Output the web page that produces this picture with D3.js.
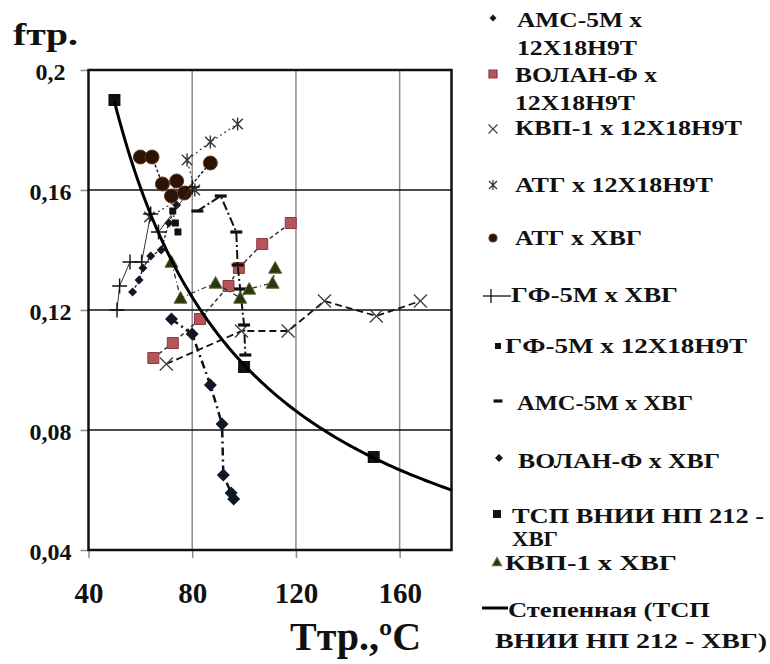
<!DOCTYPE html>
<html>
<head>
<meta charset="utf-8">
<script src="https://cdn.jsdelivr.net/npm/d3@7"></script>
<style>
  body { margin: 0; background: #fff; }
  text { font-family: "Liberation Serif", "Times New Roman", serif; font-weight: bold; fill: #111; }
</style>
</head>
<body>
<svg id="chart" width="770" height="664"></svg>
<script>
// Axis ticks
const xTicks = [40, 80, 120, 160];
const xTickLabels = ["40", "80", "120", "160"];
const yTicks = [0.04, 0.08, 0.12, 0.16, 0.2];
const yTickLabels = ["0,04", "0,08", "0,12", "0,16", "0,2"];

// Series names (friction pair)
const seriesNames = [
  "АМС-5М x 12Х18Н9Т",
  "ВОЛАН-Ф x 12Х18Н9Т",
  "КВП-1 x 12Х18Н9Т",
  "АТГ x 12Х18Н9Т",
  "АТГ x ХВГ",
  "ГФ-5М x ХВГ",
  "ГФ-5М x 12Х18Н9Т",
  "АМС-5М x ХВГ",
  "ВОЛАН-Ф x ХВГ",
  "ТСП ВНИИ НП 212 - ХВГ",
  "КВП-1 x ХВГ"
];
const trendName = "Степенная (ТСП ВНИИ НП 212 - ХВГ)";

// Temperature (°C) and friction coefficient per series
const amc12T   = [57, 59.5, 61, 64, 68, 71, 74];
const amc12F   = [0.126, 0.130, 0.134, 0.138, 0.140, 0.149, 0.155];
const volan12T = [65, 72.5, 83, 94, 98, 107, 118];
const volan12F = [0.104, 0.109, 0.117, 0.128, 0.134, 0.142, 0.149];
const kvp12T   = [70, 99, 117, 131, 151, 168];
const kvp12F   = [0.102, 0.113, 0.113, 0.123, 0.118, 0.123];
const atg12T   = [63.5, 81, 78, 87, 97.5];
const atg12F   = [0.151, 0.160, 0.170, 0.176, 0.182];
const atgXvgT  = [60, 64.5, 68.5, 74, 72, 77, 87];
const atgXvgF  = [0.171, 0.171, 0.162, 0.163, 0.158, 0.159, 0.169];
const gfXvgT   = [51, 52, 56, 60.5, 64, 67, 80];
const gfXvgF   = [0.120, 0.128, 0.136, 0.136, 0.152, 0.146, 0.161];
const gf12T    = [72.5, 73.5, 74.5];
const gf12F    = [0.153, 0.149, 0.146];
const amcXvgT  = [82, 91, 97, 97.5, 98.5, 100, 100.5];
const amcXvgF  = [0.153, 0.158, 0.146, 0.135, 0.127, 0.115, 0.105];
const volanXvgT = [72, 80, 87, 91.5, 92, 95, 96];
const volanXvgF = [0.117, 0.112, 0.095, 0.082, 0.065, 0.059, 0.057];
const tspT     = [50, 100, 150];
const tspF     = [0.190, 0.101, 0.071];
const kvpXvgT  = [72, 75.5, 89, 98.5, 102, 111, 112];
const kvpXvgF  = [0.136, 0.124, 0.129, 0.124, 0.127, 0.129, 0.134];

const zip = (ts, fs) => ts.map((t, i) => ({ t, f: fs[i] }));

// Drawing styles for each series
const series = [
  { pts: zip(amc12T, amc12F),     marker: "diamond", size: 9,  fill: "#101828", stroke: "none", line: "#222", lw: 1.3, dash: "3,2" },
  { pts: zip(volan12T, volan12F), marker: "square",  size: 11, fill: "#b5545a", stroke: "#8c3b40", line: "#333", lw: 1.5, dash: "4,3" },
  { pts: zip(kvp12T, kvp12F),     marker: "x",       size: 13, fill: "none", stroke: "#444", line: "#111", lw: 1.8, dash: "7,4" },
  { pts: zip(atg12T, atg12F),     marker: "asterisk",size: 13, fill: "none", stroke: "#333", line: "#444", lw: 1.3, dash: "2,3" },
  { pts: zip(atgXvgT, atgXvgF),   marker: "circle",  size: 14, fill: "#2b1306", stroke: "#6b3a1a", line: "#222", lw: 1.5, dash: "3,2" },
  { pts: zip(gfXvgT, gfXvgF),     marker: "plus",    size: 15, fill: "none", stroke: "#111", line: "#333", lw: 1, dash: null },
  { pts: zip(gf12T, gf12F),       marker: "square",  size: 7,  fill: "#111", stroke: "none", line: "#222", lw: 1.5, dash: "1.5,3" },
  { pts: zip(amcXvgT, amcXvgF),   marker: "dash",    size: 12, fill: "#111", stroke: "none", line: "#111", lw: 2, dash: "9,3,2,3" },
  { pts: zip(volanXvgT, volanXvgF), marker: "diamond", size: 13, fill: "#101828", stroke: "none", line: "#111", lw: 2.5, dash: "8,4,2,4" },
  { pts: zip(tspT, tspF),         marker: "square",  size: 12, fill: "#111", stroke: "none", line: null },
  { pts: zip(kvpXvgT, kvpXvgF),   marker: "triangle",size: 13, fill: "#2a3512", stroke: "#5b6b2a", line: "#333", lw: 1.3, dash: "5,3,1,3" }
];

// Marker path for a given shape, centred on the origin
function markerPath(type, s) {
  const h = s / 2;
  switch (type) {
    case "square":   return `M${-h},${-h}H${h}V${h}H${-h}Z`;
    case "diamond":  return `M0,${-h}L${h},0L0,${h}L${-h},0Z`;
    case "triangle": return `M0,${-h}L${h},${h * 0.8}L${-h},${h * 0.8}Z`;
    case "circle":   return d3.symbol(d3.symbolCircle, Math.PI * h * h)();
    case "x":        return `M${-h},${-h}L${h},${h}M${-h},${h}L${h},${-h}`;
    case "asterisk": return `M${-h * 0.8},${-h * 0.8}L${h * 0.8},${h * 0.8}M${-h * 0.8},${h * 0.8}L${h * 0.8},${-h * 0.8}M0,${-h}V${h}`;
    case "plus":     return `M${-h},0H${h}M0,${-h}V${h}`;
    case "dash":     return `M${-h},-1.6H${h}V1.6H${-h}Z`;
  }
}

const svg = d3.select("#chart");
const x = d3.scaleLinear().domain([40, 180]).range([88.5, 451.5]);
const y = d3.scaleLinear().domain([0.04, 0.2]).range([550, 70]);

// Vertical gridlines (grey)
svg.append("g").selectAll("line").data(xTicks.slice(1)).join("line")
  .attr("x1", d => x(d)).attr("x2", d => x(d))
  .attr("y1", y(0.2)).attr("y2", y(0.04))
  .attr("stroke", "#8c8c8c").attr("stroke-width", 1.5);

// Horizontal gridlines (black)
svg.append("g").selectAll("line").data(yTicks.slice(1, -1)).join("line")
  .attr("x1", x(40)).attr("x2", x(180))
  .attr("y1", d => y(d)).attr("y2", d => y(d))
  .attr("stroke", "#111").attr("stroke-width", 1.6);

// Axes
const xAxis = svg.append("g").attr("transform", `translate(0,${y(0.04)})`)
  .call(d3.axisBottom(x).tickValues(xTicks).tickFormat((d, i) => xTickLabels[i]).tickSize(8).tickPadding(24));
xAxis.select(".domain").remove();
xAxis.selectAll("line").attr("stroke", "#8c8c8c").attr("stroke-width", 1.5);
xAxis.selectAll("text").attr("font-size", 29).attr("fill", "#111");

const yAxis = svg.append("g").attr("transform", `translate(${x(40)},0)`)
  .call(d3.axisLeft(y).tickValues(yTicks).tickFormat((d, i) => yTickLabels[i]).tickSize(8));
yAxis.select(".domain").remove();
yAxis.selectAll("line").attr("stroke", "#8c8c8c").attr("stroke-width", 1.5);
yAxis.selectAll("text").attr("font-size", 24).attr("text-anchor", "middle")
  .attr("x", -38).attr("dy", "0.38em").attr("fill", "#111");

// Plot frame
svg.append("rect")
  .attr("x", x(40)).attr("y", y(0.2))
  .attr("width", x(180) - x(40)).attr("height", y(0.04) - y(0.2))
  .attr("fill", "none").attr("stroke", "#111").attr("stroke-width", 2.5);

// Series lines and markers
const lineGen = d3.line().x(d => x(d.t)).y(d => y(d.f));
const plot = svg.append("g");
series.forEach(s => {
  if (s.line) {
    plot.append("path").attr("d", lineGen(s.pts))
      .attr("fill", "none").attr("stroke", s.line).attr("stroke-width", s.lw)
      .attr("stroke-dasharray", s.dash);
  }
  plot.append("g").selectAll("path").data(s.pts).join("path")
    .attr("transform", d => `translate(${x(d.t)},${y(d.f)})`)
    .attr("d", markerPath(s.marker, s.size))
    .attr("fill", s.fill)
    .attr("stroke", s.stroke)
    .attr("stroke-width", s.marker === "x" || s.marker === "asterisk" || s.marker === "plus" ? 1.4 : 1);
});

// Power trendline f = a * T^b fitted to the ТСП series (least squares in log-log)
const lx = tspT.map(Math.log), ly = tspF.map(Math.log);
const mx = d3.mean(lx), my = d3.mean(ly);
const b = d3.sum(lx.map((v, i) => (v - mx) * (ly[i] - my))) / d3.sum(lx.map(v => (v - mx) ** 2));
const a = Math.exp(my - b * mx);
const trendPts = d3.range(50, 180.01, 1).map(t => ({ t, f: a * Math.pow(t, b) }));
plot.append("path").attr("d", lineGen(trendPts))
  .attr("fill", "none").attr("stroke", "#000").attr("stroke-width", 3);

// Axis titles
svg.append("text").attr("x", 13).attr("y", 45).attr("font-size", 31)
  .attr("textLength", 65).attr("lengthAdjust", "spacingAndGlyphs").text("fтр.");
svg.append("text").attr("x", 290).attr("y", 650).attr("font-size", 40).text("Tтр.,ºC");

// Legend: marker position and wrapped text lines [text, x, baseline, width]
const legendLayout = [
  { m: [493, 18],  lines: [["АМС-5М x", 517, 27, 125], ["12Х18Н9Т", 517, 55, 120]] },
  { m: [493, 74],  lines: [["ВОЛАН-Ф x", 515, 82, 142], ["12Х18Н9Т", 515, 110, 120]] },
  { m: [493, 129], lines: [["КВП-1 x 12Х18Н9Т", 515, 135, 227]] },
  { m: [493, 185], lines: [["АТГ x 12Х18Н9Т", 515, 192, 198]] },
  { m: [493, 238], lines: [["АТГ x ХВГ", 515, 245, 127]] },
  { m: [491, 296], lines: [["ГФ-5М x ХВГ", 511, 302, 167]] },
  { m: [498, 346], lines: [["ГФ-5М x 12Х18Н9Т", 505, 353, 242]] },
  { m: [498, 401], lines: [["АМС-5М x ХВГ", 517, 410, 176]] },
  { m: [499, 458], lines: [["ВОЛАН-Ф x ХВГ", 518, 468, 202]] },
  { m: [497, 514], lines: [["ТСП ВНИИ НП 212 -", 512, 523, 252], ["ХВГ", 512, 546, 46]] },
  { m: [497, 562], lines: [["КВП-1 x ХВГ", 505, 570, 172]] }
];
const legendSizes = [7, 8, 9, 10, 8, 0, 6, 9, 8, 8, 9];
const legend = svg.append("g");
function legendText(txt, tx, ty, w) {
  legend.append("text").attr("x", tx).attr("y", ty).attr("font-size", 22)
    .attr("textLength", w).attr("lengthAdjust", "spacingAndGlyphs").text(txt);
}
series.forEach((s, i) => {
  const L = legendLayout[i];
  if (s.marker === "plus") {
    legend.append("line").attr("x1", 483).attr("x2", 511).attr("y1", L.m[1]).attr("y2", L.m[1])
      .attr("stroke", "#111").attr("stroke-width", 1.3);
    legend.append("line").attr("x1", L.m[0]).attr("x2", L.m[0]).attr("y1", L.m[1] - 7).attr("y2", L.m[1] + 7)
      .attr("stroke", "#111").attr("stroke-width", 1.3);
  } else {
    legend.append("path").attr("transform", `translate(${L.m[0]},${L.m[1]})`)
      .attr("d", markerPath(s.marker, legendSizes[i]))
      .attr("fill", s.fill).attr("stroke", s.stroke).attr("stroke-width", 1.2);
  }
  L.lines.forEach(([txt, tx, ty, w]) => legendText(txt, tx, ty, w));
});
// Trendline legend entry
legend.append("line").attr("x1", 482).attr("x2", 508).attr("y1", 608).attr("y2", 608)
  .attr("stroke", "#000").attr("stroke-width", 3);
legendText("Степенная (ТСП", 508, 617, 202);
legendText("ВНИИ НП 212 - ХВГ)", 495, 648, 272);
</script>
</body>
</html>
